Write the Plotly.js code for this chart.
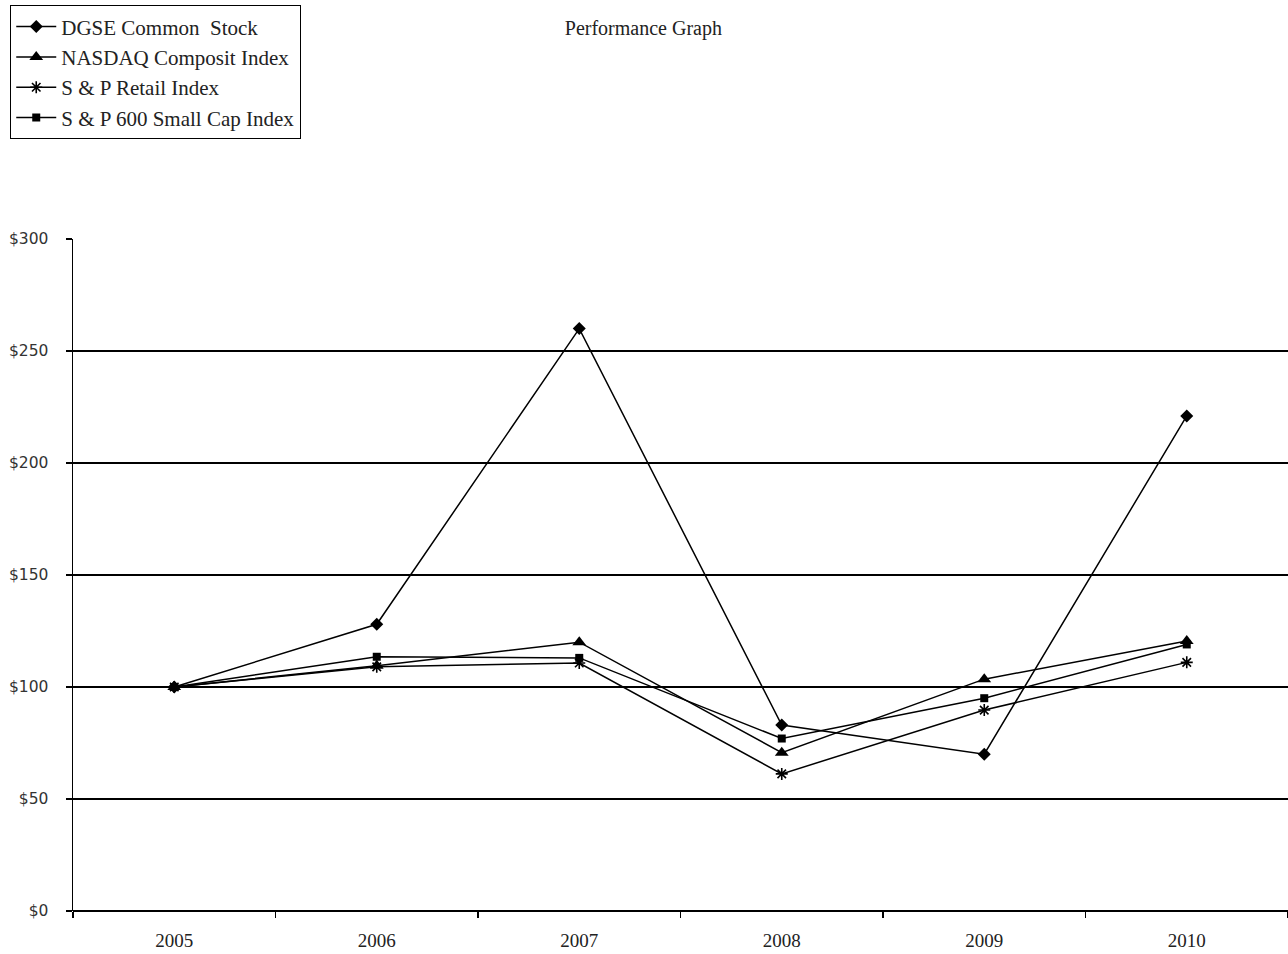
<!DOCTYPE html>
<html>
<head>
<meta charset="utf-8">
<script src="https://cdn.plot.ly/plotly-3.0.1.min.js"></script>
<style>html,body{margin:0;padding:0;background:#fff;}#chart{width:1288px;height:954px;}</style>
</head>
<body>
<div id="chart"></div>
<script>
const years = ['2005', '2006', '2007', '2008', '2009', '2010'];
const dgse = [100, 128, 260, 83, 70, 221];
const nasdaq = [100, 109.5, 120, 70.7, 103.5, 120.5];
const spRetail = [100, 109, 110.7, 61.2, 89.7, 111];
const sp600 = [100, 113.5, 113, 77, 95, 119];
const yTicks = [0, 50, 100, 150, 200, 250, 300];
const yTickText = ['$0', '$50', '$100', '$150', '$200', '$250', '$300'];
const gridVals = [50, 100, 150, 200, 250];

function series(name, y, symbol, size) {
  return {
    x: years, y: y, name: name, type: 'scatter', mode: 'lines+markers',
    line: {color: '#000', width: 1.5},
    marker: {symbol: symbol, size: size, color: '#000', line: {color: '#000', width: symbol.indexOf('asterisk') === 0 ? 1.6 : 0}},
    cliponaxis: false
  };
}

const data = [
  series('DGSE Common  Stock', dgse, 'diamond', 10),
  series('NASDAQ Composit Index', nasdaq, 'triangle-up', 12),
  series('S &amp; P Retail Index', spRetail, 'asterisk-open', 10),
  series('S &amp; P 600 Small Cap Index', sp600, 'square', 8),
  {x: years, y: [null, null, null, null, null, null], yaxis: 'y2', showlegend: false, hoverinfo: 'skip', type: 'scatter', mode: 'lines'}
];

const layout = {
  width: 1288, height: 954,
  paper_bgcolor: '#fff', plot_bgcolor: 'rgba(0,0,0,0)',
  margin: {l: 73, r: 0, t: 239, b: 43, autoexpand: false},
  title: {text: 'Performance Graph', x: 0.4995, xref: 'container', xanchor: 'center', y: 0.9706, yref: 'container', yanchor: 'middle',
          font: {family: 'Liberation Serif, Times New Roman, serif', size: 20, color: '#222'}},
  showlegend: true,
  legend: {x: -0.0519, xref: 'paper', y: 1.348, yref: 'paper', xanchor: 'left', yanchor: 'top',
           bordercolor: '#000', borderwidth: 1.3, bgcolor: '#fff',
           font: {family: 'Liberation Serif, Times New Roman, serif', size: 21, color: '#222'},
           itemwidth: 40, tracegroupgap: 0},
  xaxis: {
    type: 'category', range: [-0.5, 5.5], showgrid: false, zeroline: false,
    showline: false, ticks: 'outside', tickson: 'boundaries', ticklen: 6, tickcolor: '#000', tickwidth: 1.3,
    tickfont: {family: 'Liberation Serif, Times New Roman, serif', size: 19, color: '#222'},
    ticklabelstandoff: 16, fixedrange: true
  },
  yaxis: {
    range: [0, 300], tickvals: yTicks, ticktext: yTickText, showgrid: false,
    zeroline: true, zerolinecolor: '#000', zerolinewidth: 1.5,
    showline: true, linecolor: '#000', linewidth: 1.5,
    ticks: 'outside', ticklen: 6, tickcolor: '#000', tickwidth: 1.3,
    tickfont: {family: 'DejaVu Sans, Verdana, sans-serif', size: 15.5, color: '#333'},
    ticklabelstandoff: 14, fixedrange: true
  },
  yaxis2: {
    overlaying: 'y', range: [0, 300], tickvals: gridVals, showticklabels: false,
    showgrid: true, gridcolor: '#000', gridwidth: 1.3, zeroline: false, showline: false, ticks: '', fixedrange: true
  }
};

Plotly.newPlot('chart', data, layout, {displayModeBar: false, staticPlot: true});
</script>
</body>
</html>
